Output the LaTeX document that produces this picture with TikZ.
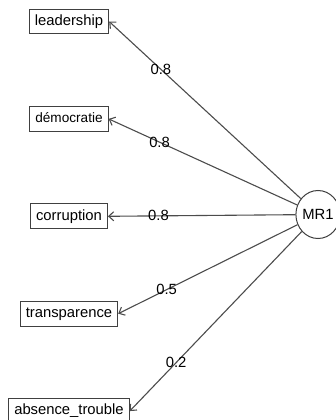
\documentclass[tikz,border=0pt]{standalone}
\usepackage{fontspec}
\setmainfont{Liberation Sans}
\usetikzlibrary{arrows.meta, positioning, shapes.geometric}

\begin{document}
\begin{tikzpicture}[
    x=1pt, y=-1pt,
    >={Straight Barb[length=5pt,width=9pt]},
    font=\fontsize{14.8}{17}\selectfont,
    var/.style={
      rectangle,
      draw=black!75,
      line width=1pt,
      text height=11pt,
      text depth=3.5pt,
      inner xsep=5.5pt,
      inner ysep=5.2pt
    },
    factor/.style={
      ellipse,
      draw=black!75,
      line width=1pt,
      minimum width=40pt,
      minimum height=48pt,
      inner sep=0pt
    },
    load/.style={pos=0.73, inner sep=0pt}
  ]
    \useasboundingbox (0,0) rectangle (336,420);
    \node[var] (lead) at (69,21.5) {leadership};
    \node[var, below=71.5pt of lead] (demo) {\fontsize{13.6}{16}\selectfont démocratie};
    \node[var, below=71.5pt of demo] (corr) {corruption};
    \node[var, below=71.5pt of corr] (trans) {transparence};
    \node[var, below=71.5pt of trans] (abs) {absence\_trouble};
    \node[factor] (mr1) at (318,214.5) {MR1};
    \begin{scope}[->, line width=1.1pt, draw=black!70]
      \draw (mr1) -- (lead.east)  node[load] {0.8};
      \draw (mr1) -- (demo.east)  node[load] {0.8};
      \draw (mr1) -- (corr.east)  node[load] {0.8};
      \draw (mr1) -- (trans.east) node[load] {0.5};
      \draw (mr1) -- (abs.east)   node[load] {0.2};
    \end{scope}
  \end{tikzpicture}
\end{document}
